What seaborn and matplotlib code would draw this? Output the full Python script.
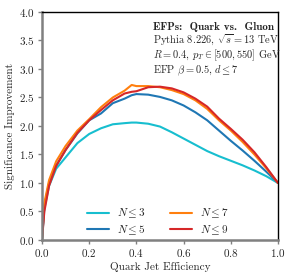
import numpy as np
import pandas as pd
import matplotlib
matplotlib.use("Agg")
import matplotlib.pyplot as plt
import seaborn as sns

# quark jet efficiency grid and significance improvement per EFP set
eff = [0.0, 0.01, 0.03, 0.06, 0.1, 0.15, 0.2, 0.25, 0.3, 0.35, 0.38, 0.4, 0.45,
       0.5, 0.55, 0.6, 0.65, 0.7, 0.75, 0.8, 0.85, 0.9, 0.95, 1.0]
n3 = [0.0, 0.55, 0.95, 1.25, 1.45, 1.70, 1.86, 1.96, 2.03, 2.05, 2.06, 2.06, 2.04,
      1.99, 1.89, 1.78, 1.67, 1.56, 1.47, 1.39, 1.31, 1.22, 1.12, 1.0]
n5 = [0.0, 0.60, 1.00, 1.30, 1.58, 1.87, 2.10, 2.22, 2.40, 2.48, 2.54, 2.56, 2.55,
      2.51, 2.45, 2.36, 2.24, 2.10, 1.92, 1.74, 1.57, 1.39, 1.20, 1.0]
n7 = [0.0, 0.65, 1.05, 1.38, 1.65, 1.92, 2.12, 2.33, 2.50, 2.62, 2.72, 2.70, 2.70,
      2.68, 2.63, 2.56, 2.45, 2.30, 2.10, 1.92, 1.72, 1.50, 1.26, 1.0]
n9 = [0.0, 0.50, 0.95, 1.30, 1.58, 1.88, 2.10, 2.28, 2.45, 2.57, 2.60, 2.61, 2.68,
      2.69, 2.66, 2.59, 2.48, 2.34, 2.13, 1.95, 1.76, 1.54, 1.28, 1.0]
labels = [r"$N\leq3$", r"$N\leq5$", r"$N\leq7$", r"$N\leq9$"]
colors = ["#17becf", "#1f77b4", "#ff7f0e", "#d62728"]

df = pd.concat([pd.DataFrame({"eff": eff, "sig": s, "set": lab})
                for s, lab in zip([n3, n5, n7, n9], labels)])

sns.set_style("ticks")
plt.rcParams["font.family"] = "cmr10"
plt.rcParams["mathtext.fontset"] = "cm"
plt.rcParams["axes.formatter.use_mathtext"] = True

fig = plt.figure(figsize=(3.01, 2.79), dpi=100)
ax = fig.add_axes([0.1395, 0.1398, 0.7841, 0.8172])

sns.lineplot(data=df, x="eff", y="sig", hue="set", palette=colors,
             estimator=None, sort=False, lw=1.5, ax=ax, legend=False)

ax.set_xlim(0, 1)
ax.set_ylim(0, 4)
ax.set_xticks([0, 0.2, 0.4, 0.6, 0.8, 1.0])
ax.set_yticks(np.arange(0, 4.01, 0.5))
ax.set_xlabel("Quark Jet Efficiency", fontsize=8, labelpad=2)
ax.set_ylabel("Significance Improvement", fontsize=8, labelpad=3)
ax.tick_params(labelsize=8, length=3, width=1, color="gray", pad=2)
for side in ["left", "bottom"]:
    ax.spines[side].set_color("gray")
    ax.spines[side].set_linewidth(1.8)
for side in ["top", "right"]:
    ax.spines[side].set_color("black")
    ax.spines[side].set_linewidth(1.0)

handles = [plt.Line2D([], [], color=c, lw=1.5) for c in colors]
ax.legend(handles, labels, ncol=2, loc="lower center", frameon=False,
          fontsize=8, bbox_to_anchor=(0.49, -0.03), columnspacing=2.2,
          handlelength=2.0, handletextpad=0.7, labelspacing=0.3)

ax.text(0.472, 0.955, "EFPs:  Quark vs.  Gluon", transform=ax.transAxes,
        fontsize=8, family="cmb10", va="top")
ax.text(0.472, 0.91,
        "Pythia 8.226, $\\sqrt{s}=13$ TeV\n"
        "$R=0.4$, $p_T\\in[500,550]$ GeV\n"
        "EFP $\\beta=0.5$, $d\\leq7$",
        transform=ax.transAxes, fontsize=7.5, va="top", linespacing=1.05)

fig.savefig("out.png", dpi=100)
